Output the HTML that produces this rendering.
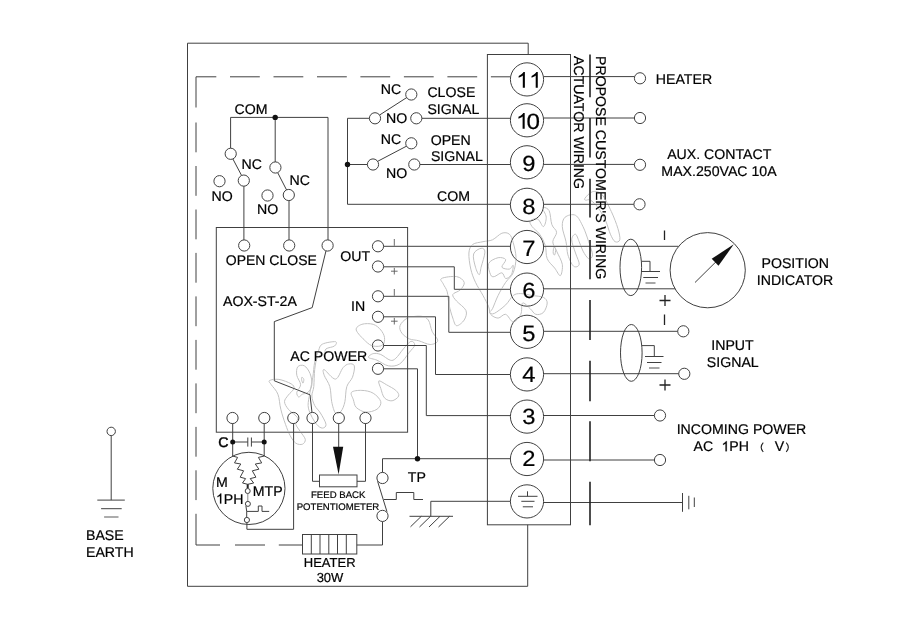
<!DOCTYPE html>
<html>
<head>
<meta charset="utf-8">
<title>Wiring Diagram</title>
<style>
html,body{margin:0;padding:0;background:#fff;}
body{width:900px;height:636px;overflow:hidden;font-family:"Liberation Sans",sans-serif;}
svg{display:block;will-change:transform;opacity:0.999;}
text{font-family:"Liberation Sans",sans-serif;fill:#000;stroke:#000;stroke-width:0.2px;text-rendering:geometricPrecision;}
.t{font-size:14.15px;}
.s{font-size:9.6px;}
.n{font-size:22px;text-anchor:middle;}
.w{fill:none;stroke:#404040;stroke-width:1;}
.c{fill:#fff;stroke:#404040;stroke-width:1;}
.d{fill:#111;stroke:none;}
.k{fill:none;stroke:#222;stroke-width:1.6;}
.wm{fill:none;stroke:#c2c2c2;stroke-width:1;mix-blend-mode:darken;}
</style>
</head>
<body>
<svg width="900" height="636" viewBox="0 0 900 636">
<rect x="0" y="0" width="900" height="636" fill="#fff"/>



<!-- OUTER BOX -->
<g id="outer" class="w">
<path d="M528.2 54.5V43.2H187.5V586.3H527.7V524.8"/>
<rect x="487.4" y="54.5" width="83.1" height="470.3"/>
</g>

<!-- DASHED INNER BOX -->
<g id="dash" class="w">
<path d="M196 107.5V76.8H216.3M230.0 76.8H259.8M273.5 76.8H303.3M317.0 76.8H346.8M360.4 76.8H390.2M403.9 76.8H433.7M447.4 76.8H477.2M490.9 76.8H510.5"/>
<path d="M196 122.5V152.3M196 166.0V195.8M196 209.5V239.3M196 252.9V282.7M196 296.4V326.2M196 339.9V369.7M196 383.4V413.2M196 426.9V456.7M196 470.3V500.1"/>
<path d="M196 513.8V545H220M235 545H265M278.8 545H302.5"/>
</g>

<!-- LEFT LIMIT SWITCHES -->
<g id="lsw">
<path class="w" d="M230.6 148.3V117.4H328V240M275.2 117.4V162M232.8 158.8L241.6 175.5M277.6 172.5L286.6 190M243.9 186V240M289 200.5V240"/>
<circle class="d" cx="275.2" cy="117.4" r="2.7"/>
<circle class="c" cx="230.7" cy="153.8" r="5.6"/>
<circle class="c" cx="243.8" cy="180.6" r="5.6"/>
<circle class="c" cx="219.5" cy="181.2" r="5.6"/>
<circle class="c" cx="275.4" cy="167.5" r="5.6"/>
<circle class="c" cx="288.8" cy="195" r="5.6"/>
<circle class="c" cx="267.5" cy="195.5" r="5.6"/>
<text class="t" x="234.5" y="113.8">COM</text>
<text class="t" x="241.5" y="168.8">NC</text>
<text class="t" x="211.5" y="200.8">NO</text>
<text class="t" x="289.5" y="184.5">NC</text>
<text class="t" x="257" y="213.8">NO</text>
</g>

<!-- CONTROLLER BOX -->
<g id="ctl">
<rect class="w" x="216.3" y="227.5" width="191.3" height="204.7"/>
<path class="w" d="M326 250.8L312.2 307.6L274.3 321.6V380.8L310 394.8L312 412.6"/>
<circle class="c" cx="244.2" cy="245.5" r="5.6"/>
<circle class="c" cx="289.2" cy="245.5" r="5.6"/>
<circle class="c" cx="327.6" cy="245.5" r="5.6"/>
<text class="t" x="225.8" y="265" style="font-size:14px">OPEN CLOSE</text>
<text class="t" x="223" y="306.3">AOX-ST-2A</text>
<text class="t" x="340.3" y="260.8">OUT</text>
<text class="t" x="351" y="310.8">IN</text>
<text class="t" x="290.3" y="361.3">AC POWER</text>
<!-- right side terminals -->
<path class="w" d="M383.3 246.3H510.5M383.3 266.8H454.3V289.3H510.5M383.3 296.3H448.8V332.3H510.5M383.3 316.8H435.5V374.5H510.5M383.3 345.5H426.3V415.6H510.5M383.3 368.8H417.5V458.6"/>
<path class="w" style="stroke:#5a5a5a;stroke-width:0.9" d="M394.3 239V245.8M394.3 289V295.8M391 271.2H397.6M394.3 267.9V274.5M391 321.2H397.6M394.3 317.9V324.5"/>
<circle class="c" cx="378" cy="246.3" r="5.6"/>
<circle class="c" cx="378" cy="266.5" r="5.6"/>
<circle class="c" cx="378" cy="296.3" r="5.6"/>
<circle class="c" cx="378" cy="316.8" r="5.6"/>
<circle class="c" cx="378" cy="345.5" r="5.6"/>
<circle class="c" cx="378" cy="368.8" r="5.6"/>
<!-- bottom terminals -->
<circle class="c" cx="232.5" cy="418" r="5.6"/>
<circle class="c" cx="264.3" cy="418" r="5.6"/>
<circle class="c" cx="293.3" cy="418" r="5.6"/>
<circle class="c" cx="312.5" cy="418" r="5.6"/>
<circle class="c" cx="338.8" cy="418" r="5.6"/>
<circle class="c" cx="365.5" cy="418" r="5.6"/>
</g>

<!-- SIGNAL SWITCHES -->
<g id="ssw">
<path class="w" d="M369.7 118.3H347.5V204.3H510.5M421.5 118.3H510.5M347.5 164.5H367.7M419.5 164.5H510.5M379.3 115.2L407 97.4M377.3 161.5L406.8 146"/>
<circle class="d" cx="347.5" cy="164.5" r="2.7"/>
<circle class="c" cx="411.3" cy="94.5" r="5.6"/>
<circle class="c" cx="375" cy="118.3" r="5.6"/>
<circle class="c" cx="416.3" cy="118.3" r="5.6"/>
<circle class="c" cx="411.3" cy="143.3" r="5.6"/>
<circle class="c" cx="373" cy="164.5" r="5.6"/>
<circle class="c" cx="414.3" cy="164.5" r="5.6"/>
<text class="t" x="380.8" y="93.8">NC</text>
<text class="t" x="386" y="123">NO</text>
<text class="t" x="380.8" y="143.8">NC</text>
<text class="t" x="386" y="177.5">NO</text>
<text class="t" x="427.4" y="97">CLOSE</text>
<text class="t" x="427.4" y="113.8">SIGNAL</text>
<text class="t" x="430.7" y="145">OPEN</text>
<text class="t" x="430.9" y="161.3">SIGNAL</text>
<text class="t" x="437" y="200.8">COM</text>
</g>

<!-- TERMINAL CIRCLES -->
<g id="term">
<circle class="c" cx="527" cy="79.4" r="16.6"/>
<circle class="c" cx="527" cy="120.3" r="16.6"/>
<circle class="c" cx="527" cy="162.3" r="16.6"/>
<circle class="c" cx="527" cy="204.8" r="16.6"/>
<circle class="c" cx="527" cy="247.0" r="16.6"/>
<circle class="c" cx="527" cy="289.6" r="16.6"/>
<circle class="c" cx="527" cy="331.8" r="16.6"/>
<circle class="c" cx="527" cy="374.4" r="16.6"/>
<circle class="c" cx="527" cy="416.6" r="16.6"/>
<circle class="c" cx="527" cy="459.0" r="16.6"/>
<circle class="c" cx="527" cy="501.4" r="16.6"/>
<path class="d" style="fill:#000" transform="translate(516.1 87.8) scale(0.0115 -0.010742)" d="M763 0H583V1147Q518 1085 412.5 1023Q307 961 223 930V1104Q374 1175 486 1276Q598 1377 644 1472H763Z"/>
<path class="d" style="fill:#000" transform="translate(529.0 87.8) scale(0.0115 -0.010742)" d="M763 0H583V1147Q518 1085 412.5 1023Q307 961 223 930V1104Q374 1175 486 1276Q598 1377 644 1472H763Z"/>
<path class="d" style="fill:#000" transform="translate(515.9 128.7) scale(0.0115 -0.010742)" d="M763 0H583V1147Q518 1085 412.5 1023Q307 961 223 930V1104Q374 1175 486 1276Q598 1377 644 1472H763Z"/>
<text class="n" transform="translate(533.3 128.7) scale(1.1 1)">0</text>
<text class="n" transform="translate(528.8 171.2) scale(1.08 1)">9</text>
<text class="n" transform="translate(528.8 213.5) scale(1.08 1)">8</text>
<text class="n" transform="translate(528.8 256.4) scale(1.08 1)">7</text>
<text class="n" transform="translate(528.8 297.9) scale(1.08 1)">6</text>
<text class="n" transform="translate(528.8 340.8) scale(1.08 1)">5</text>
<text class="n" transform="translate(528.8 381.9) scale(1.08 1)">4</text>
<text class="n" transform="translate(528.8 424.0) scale(1.08 1)">3</text>
<text class="n" transform="translate(528.8 466.0) scale(1.08 1)">2</text>
<path class="w" d="M527.5 491.3V496.3M518 496.3H537.5M521.3 501.3H534.5M522.8 506.8H533"/>
</g>

<!-- RIGHT SIDE EXTERNAL WIRING -->
<g id="ext">
<path class="w" d="M543.5 76.6H634.7M543.5 118H634.7M543.5 164.4H634.7M543.5 204.3H634.2M543.5 246.3H678.6M543.5 288.8H675.5M543.5 331.3H678M543.5 373.7H679M543.5 415.5H654.7M543.5 460H654.7M543.5 502.5H682.5"/>
<path class="k" d="M590 54.5V97.3M590 118V157.5M590 178.8V217.5M590 240V279.3M590 300V340M590 360.8V401.3M590 421.3V461.3M590 481.8V525.3"/>
<circle class="c" cx="640" cy="78.3" r="5.6"/>
<circle class="c" cx="640" cy="118" r="5.6"/>
<circle class="c" cx="640" cy="164.8" r="5.6"/>
<circle class="c" cx="639.5" cy="204.3" r="5.6"/>
<circle class="c" cx="683.3" cy="331.3" r="5.6"/>
<circle class="c" cx="684.3" cy="373.8" r="5.6"/>
<circle class="c" cx="660" cy="415.5" r="5.6"/>
<circle class="c" cx="660" cy="460" r="5.6"/>
<!-- shields -->
<ellipse class="w" cx="630.8" cy="267.4" rx="10.8" ry="28.2"/>
<path class="w" d="M641.5 261.3H650V271.5M641.3 271.5H660M643.3 277.5H658"/>
<path class="w" style="stroke:#777;stroke-width:1.3" d="M645.5 283H655.5"/>
<ellipse class="w" cx="631.3" cy="352.9" rx="10.8" ry="28.4"/>
<path class="w" d="M642 345.6H654.3V356.5M645 356.5H663.5M647 362.5H661.5"/>
<path class="w" style="stroke:#777;stroke-width:1.3" d="M649 368H659.5"/>
<!-- gauge -->
<circle class="c" cx="707.7" cy="270.2" r="37.6"/>
<path class="w" d="M695 282.5L722 255.8"/>
<path class="d" d="M733.8 244.3L711.7 258.8L718.5 265.8Z"/>
<!-- polarity marks -->
<path class="w" style="stroke:#222;stroke-width:1.3" d="M664.5 230.5V240M664.5 314.5V325M659.5 300.5H670.5M665 295V306M659.5 385H670.5M665 379.5V390.5"/>
<!-- earth -->
<path class="w" d="M682.5 493V511.8M688.8 495.8V509.3M694.3 497.5V507"/>
<text class="t" x="655.8" y="83.8">HEATER</text>
<text class="t" x="719.3" y="158.8" text-anchor="middle">AUX. CONTACT</text>
<text class="t" x="719" y="175.5" text-anchor="middle">MAX.250VAC 10A</text>
<text class="t" x="795.3" y="268" text-anchor="middle">POSITION</text>
<text class="t" x="795" y="285" text-anchor="middle">INDICATOR</text>
<text class="t" x="732.5" y="350" text-anchor="middle">INPUT</text>
<text class="t" x="732.8" y="366.8" text-anchor="middle">SIGNAL</text>
<text class="t" x="741.5" y="433.8" text-anchor="middle">INCOMING POWER</text>
<text class="t" x="693.5" y="451.3">AC</text>
<path style="fill:#000;stroke:#000;stroke-width:30" transform="translate(721.50 451.30) scale(0.006909 -0.006909)" d="M763 0H583V1147Q518 1085 412.5 1023Q307 961 223 930V1104Q374 1175 486 1276Q598 1377 644 1472H763Z"/><text class="t" x="729.37" y="451.3">PH</text>
<text class="t" x="774.8" y="451.3">V</text>
<path class="w" d="M763.3 442.6Q759 447.3 763.3 452M786.2 442.6Q790.5 447.3 786.2 452" style="stroke-width:1.1;stroke:#222"/>
<text class="t" transform="translate(574.3 56) rotate(90)">ACTUATOR WIRING</text>
<text class="t" transform="translate(596 56) rotate(90)">PROPOSE CUSTOMER'S WIRING</text>
</g>

<!-- MOTOR + CAPACITOR -->
<g id="motor">
<circle class="w" cx="248.9" cy="488.4" r="36.1"/>
<path class="w" d="M232.7 423.3V456M264.2 423.3V456M232.7 442H247.8M251.4 442H264.2M247.8 437.5V446.6M251.4 437.5V446.6"/>
<circle class="d" cx="232.7" cy="442" r="2.5"/>
<circle class="d" cx="264.2" cy="442" r="2.5"/>
<path class="w" d="M232.6 456L237.6 457.4L234.5 462.9L240.8 464L237.3 469.2L243.6 470.8L240.2 477.2L245.6 478.6L242.5 483L247.7 484.3L253.7 483L250.2 478.6L255.9 477.2L252.3 470.8L258.9 469.2L255.3 464L261.7 462.9L258.4 457.4L264.4 456"/>
<path class="w" d="M247.7 484.3V488.4" style="stroke-width:2;stroke:#222"/>
<path class="w" d="M247.8 493.5V501.3" style="stroke:#8a8a8a"/>
<path class="w" d="M245.9 505.8L246.7 511.4V517.2M246.7 511.4H258.3V506H262V511.4H269.2M246.9 522.6V529.3H293.6V423.3"/>
<circle class="c" cx="247.7" cy="491" r="2.5"/>
<circle class="c" cx="247.9" cy="503.9" r="2.5"/>
<circle class="c" cx="246.9" cy="520" r="2.6"/>
<text class="t" x="218.2" y="446.5" style="stroke-width:0.45px">C</text>
<text class="t" x="216" y="486.8">M</text>
<path style="fill:#000;stroke:#000;stroke-width:30" transform="translate(216.00 503.60) scale(0.006909 -0.006909)" d="M763 0H583V1147Q518 1085 412.5 1023Q307 961 223 930V1104Q374 1175 486 1276Q598 1377 644 1472H763Z"/><text class="t" x="223.87" y="503.6">PH</text>
<text class="t" x="252.8" y="496.3">MTP</text>
</g>

<!-- FEEDBACK POTENTIOMETER -->
<g id="pot">
<path class="w" d="M312.5 423.3V481.3H319.5M357 481.3H365.5V423.3M338.7 423.3V447"/>
<rect class="w" x="319.5" y="475" width="37.5" height="11.8"/>
<path class="d" d="M333 446.8H343.2L338.6 474.5Z"/>
<text class="s" x="338.2" y="498.4" text-anchor="middle">FEED BACK</text>
<text class="s" x="338" y="509.9" text-anchor="middle">POTENTIOMETER</text>
</g>

<!-- TP SWITCH + HEATER + CHASSIS GROUND -->
<g id="tp">
<path class="w" d="M382.5 472.7V458.7H510.5M377.6 481.3L387 511.8M384 499.5H396.3V492.5H413.8V499.5H423M382.5 521.5V545H356.8"/>
<circle class="d" cx="417.5" cy="458.7" r="2.7"/>
<circle class="c" cx="382.5" cy="478" r="5.6"/>
<circle class="c" cx="382.5" cy="515.9" r="5.6"/>
<text class="t" x="407.8" y="481.8">TP</text>
<rect class="w" x="302.5" y="534.5" width="54.3" height="19.5"/>
<path class="w" d="M311.3 534.5V554M320 534.5V554M328.8 534.5V554M337.5 534.5V554M346.3 534.5V554"/>
<text x="329.7" y="566.8" text-anchor="middle" font-size="13px">HEATER</text>
<text x="330" y="582" text-anchor="middle" font-size="13px">30W</text>
<path class="w" d="M510.5 501.3H430.8V516.3M409.5 516.3H453M421.3 516.3L410.5 526.8M430.5 516.3L419.5 527M440 516.3L429 527M449.5 516.3L438.5 527"/>
</g>

<!-- BASE EARTH -->
<g id="base">
<path class="w" d="M111.2 435.5V500.1M97.3 500.1H124.8M101.1 508.7H121.7"/>
<path class="w" d="M104.1 517H118.5" style="stroke:#888;stroke-width:1.4"/>
<circle class="c" cx="111.2" cy="431.4" r="4.2"/>
<text class="t" x="86" y="540.1">BASE</text>
<text class="t" x="86" y="556.7">EARTH</text>
</g>

<!-- WATERMARK -->
<g id="wm" class="wm">
<path d="M269.4 380.6C270.7 379.7 275.3 378.9 278.9 379.4C282.5 380.0 288.6 382.3 291.1 383.8C293.6 385.3 294.4 386.6 294.0 388.5C293.5 390.4 289.9 392.9 288.3 395.1C286.7 397.3 284.5 399.3 284.5 401.7C284.5 404.1 286.6 407.0 288.3 409.2C290.0 411.4 293.3 413.3 294.9 414.9C296.5 416.5 297.6 417.1 297.7 418.7C297.9 420.3 295.4 422.1 295.8 424.3C296.3 426.5 299.0 429.4 300.6 431.9C302.1 434.4 305.0 437.4 305.3 439.4C305.6 441.5 304.0 443.5 302.5 444.2C300.9 444.8 297.9 444.6 295.8 443.2C293.8 441.8 291.9 438.8 290.2 435.7C288.5 432.5 287.0 428.7 285.5 424.3C283.9 419.9 282.0 414.3 280.8 409.2C279.5 404.2 279.5 398.2 277.9 394.2C276.4 390.1 272.7 387.0 271.3 384.7C269.9 382.5 268.2 381.4 269.4 380.6Z"/>
<path d="M297.7 366.8C299.0 365.2 302.3 364.7 304.3 365.8C306.4 366.9 308.7 370.3 310.0 373.4C311.3 376.5 312.2 381.6 311.9 384.7C311.6 387.9 309.7 390.7 308.1 392.3C306.5 393.8 304.0 393.4 302.5 394.2C300.9 394.9 299.6 397.3 298.7 397.0C297.7 396.7 296.5 394.3 296.8 392.3C297.1 390.2 300.6 387.5 300.6 384.7C300.6 381.9 297.3 378.3 296.8 375.3C296.3 372.3 296.5 368.4 297.7 366.8Z"/>
<path d="M322.3 344.2C325.1 342.6 333.4 341.4 335.5 341.7C337.5 342.0 336.1 344.8 334.5 346.0C333.0 347.2 327.8 347.5 326.0 348.9C324.3 350.3 325.6 353.1 324.2 354.5C322.7 355.9 319.1 354.8 317.5 357.4C316.0 359.9 315.3 364.7 314.7 369.6C314.1 374.5 314.2 382.2 313.8 386.6C313.3 391.0 311.7 392.9 311.9 396.0C312.0 399.2 313.3 402.6 314.7 405.5C316.1 408.3 318.5 409.9 320.4 413.0C322.3 416.2 325.7 421.8 326.0 424.3C326.4 426.9 323.8 428.1 322.3 428.1C320.7 428.1 318.5 426.5 316.6 424.3C314.7 422.1 312.4 418.1 310.9 414.9C309.5 411.8 308.3 409.2 308.1 405.5C308.0 401.7 309.2 397.0 310.0 392.3C310.8 387.5 312.0 382.2 312.8 377.2C313.6 372.1 313.8 366.5 314.7 362.1C315.7 357.7 317.2 353.7 318.5 350.8C319.7 347.8 319.4 345.7 322.3 344.2Z"/>
<path d="M324.2 369.6C326.0 370.3 332.3 379.4 335.5 379.1C338.6 378.7 340.8 370.3 343.0 367.7C345.2 365.2 346.8 364.3 348.7 364.0C350.6 363.6 353.7 363.6 354.3 365.8C355.0 368.1 353.7 373.7 352.5 377.2C351.2 380.6 348.1 382.5 346.8 386.6C345.5 390.7 345.8 397.6 344.9 401.7C344.0 405.8 342.7 409.2 341.1 411.1C339.6 413.0 337.0 414.6 335.5 413.0C333.9 411.4 332.6 406.1 331.7 401.7C330.8 397.3 331.1 391.0 329.8 386.6C328.6 382.2 325.1 378.1 324.2 375.3C323.2 372.5 322.3 369.0 324.2 369.6Z"/>
<path d="M351.5 392.3C352.9 390.7 358.3 390.2 361.9 390.4C365.5 390.5 370.1 391.3 373.2 393.2C376.4 395.1 380.1 399.0 380.8 401.7C381.4 404.4 379.5 407.5 377.0 409.2C374.5 411.0 369.1 412.4 365.7 412.1C362.2 411.8 358.3 409.4 356.2 407.4C354.2 405.3 354.2 402.3 353.4 399.8C352.6 397.3 350.1 393.8 351.5 392.3Z"/>
<path d="M378.9 380.9C379.8 380.3 383.6 383.1 386.4 384.7C389.2 386.3 393.8 388.5 395.8 390.4C397.9 392.3 399.3 394.3 398.7 396.0C398.1 397.8 394.4 400.4 392.1 400.8C389.7 401.1 386.4 400.0 384.5 397.9C382.6 395.9 381.7 391.3 380.8 388.5C379.8 385.7 377.9 381.6 378.9 380.9Z"/>
<path d="M368.5 357.4C369.1 358.5 373.7 358.8 377.0 360.2C380.3 361.6 384.5 365.2 388.3 365.8C392.1 366.5 396.2 366.2 399.6 364.0C403.1 361.8 406.5 355.8 409.1 352.6C411.6 349.5 414.4 347.0 414.7 345.1C415.0 343.2 412.8 340.7 410.9 341.3C409.1 341.9 405.9 346.0 403.4 348.9C400.9 351.7 398.1 356.4 395.8 358.3C393.6 360.2 392.7 360.8 390.2 360.2C387.7 359.6 383.6 355.6 380.8 354.5C377.9 353.4 375.3 353.1 373.2 353.6C371.2 354.1 367.9 356.3 368.5 357.4Z"/>
<path d="M356.2 330.0C356.9 332.8 362.8 338.6 365.7 341.3C368.5 344.0 370.4 345.4 373.2 346.0C376.0 346.7 380.8 346.5 382.6 345.1C384.5 343.7 384.8 340.1 384.5 337.5C384.2 335.0 382.6 332.2 380.8 330.0C378.9 327.8 376.4 325.3 373.2 324.3C370.1 323.4 364.7 323.4 361.9 324.3C359.1 325.3 355.6 327.2 356.2 330.0Z"/>
<path d="M301.9 377.2C302.2 377.0 303.6 378.4 303.8 379.4C304.0 380.4 303.4 383.1 303.0 383.2C302.7 383.3 301.9 381.2 301.7 380.2C301.5 379.2 301.5 377.3 301.9 377.2Z"/>
<path d="M468.9 253.0C469.2 248.9 470.3 246.4 472.6 244.5C475.0 242.6 479.7 242.5 483.0 241.7C486.3 240.9 489.3 241.2 492.5 239.8C495.6 238.4 499.1 234.2 501.9 233.2C504.7 232.3 507.5 232.6 509.4 234.2C511.3 235.7 512.1 238.7 513.2 242.6C514.3 246.6 516.0 252.7 516.0 257.7C516.0 262.8 514.9 268.7 513.2 272.8C511.5 276.9 508.2 278.5 505.7 282.3C503.1 286.0 500.3 291.1 498.1 295.5C495.9 299.9 493.9 305.8 492.5 308.7C491.0 311.5 489.3 311.7 489.6 312.5C489.9 313.2 491.7 314.7 494.3 313.4C497.0 312.1 502.5 307.9 505.7 304.9C508.8 301.9 510.7 297.4 513.2 295.5C515.7 293.6 517.6 293.6 520.8 293.6C523.9 293.6 528.3 294.8 532.1 295.5C535.8 296.1 540.9 296.1 543.4 297.4C545.9 298.6 547.2 300.5 547.2 303.0C547.2 305.5 545.3 310.6 543.4 312.5C541.5 314.3 538.1 315.0 535.8 314.3C533.6 313.7 532.4 310.6 530.2 308.7C528.0 306.8 524.2 302.1 522.6 303.0C521.1 304.0 522.3 311.2 520.8 314.3C519.2 317.5 515.7 321.9 513.2 321.9C510.7 321.9 508.2 315.0 505.7 314.3C503.1 313.7 500.6 318.1 498.1 318.1C495.6 318.1 492.1 316.2 490.6 314.3C489.0 312.5 489.9 309.9 488.7 306.8C487.4 303.6 485.2 299.6 483.0 295.5C480.8 291.4 477.5 286.7 475.5 282.3C473.4 277.9 471.9 273.9 470.8 269.1C469.7 264.2 468.6 257.1 468.9 253.0Z"/>
<path d="M473.6 254.0C474.5 250.8 479.2 248.6 481.1 248.3C483.0 248.0 484.9 248.9 484.9 252.1C484.9 255.2 482.1 263.4 481.1 267.2C480.2 270.9 480.2 274.7 479.2 274.7C478.3 274.7 476.4 270.6 475.5 267.2C474.5 263.7 472.6 257.1 473.6 254.0Z"/>
<path d="M488.7 263.4C489.9 260.6 495.3 258.4 498.1 257.7C500.9 257.1 505.0 258.1 505.7 259.6C506.3 261.2 501.3 265.6 501.9 267.2C502.5 268.7 507.5 269.4 509.4 269.1C511.3 268.7 512.9 264.3 513.2 265.3C513.5 266.2 512.6 272.5 511.3 274.7C510.1 276.9 507.2 278.8 505.7 278.5C504.1 278.2 503.8 273.1 501.9 272.8C500.0 272.5 496.2 276.3 494.3 276.6C492.5 276.9 491.5 276.9 490.6 274.7C489.6 272.5 487.4 266.2 488.7 263.4Z"/>
<path d="M441.5 278.5C443.7 277.2 452.8 276.0 456.6 276.6C460.4 277.2 463.5 280.1 464.2 282.3C464.8 284.5 462.3 287.8 460.4 289.8C458.5 291.9 453.5 292.6 452.8 294.5C452.2 296.4 454.4 298.5 456.6 301.1C458.8 303.8 464.8 307.4 466.0 310.6C467.3 313.7 465.7 317.5 464.2 320.0C462.6 322.5 458.5 326.0 456.6 325.7C454.7 325.3 454.1 321.6 452.8 318.1C451.6 314.7 450.0 309.3 449.1 304.9C448.1 300.5 448.1 295.2 447.2 291.7C446.2 288.2 444.3 286.4 443.4 284.2C442.5 281.9 439.3 279.7 441.5 278.5Z"/>
<path d="M400.0 325.7C400.9 323.1 404.1 319.7 407.5 318.1C411.0 316.5 417.3 315.9 420.8 316.2C424.2 316.5 426.4 317.5 428.3 320.0C430.2 322.5 430.5 327.9 432.1 331.3C433.6 334.8 438.1 338.6 437.7 340.8C437.4 343.0 433.3 344.5 430.2 344.5C427.0 344.5 422.3 341.7 418.9 340.8C415.4 339.8 412.3 340.1 409.4 338.9C406.6 337.6 403.5 335.4 401.9 333.2C400.3 331.0 399.1 328.2 400.0 325.7Z"/>
<path d="M584.9 198.3C586.0 196.9 589.6 192.3 592.5 191.7C595.3 191.1 598.7 191.2 601.9 194.5C605.0 197.8 608.6 205.8 611.3 211.5C614.0 217.2 616.5 223.8 617.9 228.5C619.3 233.2 620.3 237.6 619.8 239.8C619.3 242.0 616.7 242.6 615.1 241.7C613.5 240.8 611.9 237.6 610.4 234.2C608.8 230.7 607.7 225.3 605.7 220.9C603.6 216.5 600.6 211.2 598.1 207.7C595.6 204.3 592.6 201.4 590.6 200.2C588.5 198.9 586.8 200.5 585.8 200.2C584.9 199.9 583.8 199.7 584.9 198.3Z"/>
<path d="M542.5 207.7C542.9 206.6 547.5 207.7 549.1 210.6C550.6 213.4 550.6 221.1 551.9 224.7C553.1 228.3 556.4 229.4 556.6 232.3C556.8 235.1 552.8 238.6 552.8 241.7C552.8 244.8 555.0 247.4 556.6 251.1C558.2 254.9 561.6 260.3 562.3 264.3C562.9 268.4 561.6 275.0 560.4 275.7C559.1 276.3 556.9 270.9 554.7 268.1C552.5 265.3 548.7 262.5 547.2 258.7C545.6 254.9 546.5 249.6 545.3 245.5C544.0 241.4 541.8 237.3 539.6 234.2C537.4 231.0 533.6 228.8 532.1 226.6C530.5 224.4 529.2 222.2 530.2 220.9C531.1 219.7 535.5 218.1 537.7 219.1C539.9 220.0 542.0 226.9 543.4 226.6C544.8 226.3 546.4 220.3 546.2 217.2C546.1 214.0 542.0 208.8 542.5 207.7Z"/>
<path d="M565.1 217.2C567.3 215.3 572.5 213.7 575.5 215.3C578.5 216.9 580.8 222.2 583.0 226.6C585.2 231.0 587.1 237.0 588.7 241.7C590.3 246.4 592.5 252.1 592.5 254.9C592.5 257.7 590.3 259.3 588.7 258.7C587.1 258.1 584.6 254.0 583.0 251.1C581.4 248.3 580.5 244.5 579.2 241.7C578.0 238.9 576.7 234.5 575.5 234.2C574.2 233.8 571.7 236.7 571.7 239.8C571.7 243.0 574.2 248.9 575.5 253.0C576.7 257.1 579.6 262.1 579.2 264.3C578.9 266.5 575.5 267.8 573.6 266.2C571.7 264.7 569.2 259.0 567.9 254.9C566.7 250.8 567.0 246.4 566.0 241.7C565.1 237.0 562.4 230.7 562.3 226.6C562.1 222.5 562.9 219.1 565.1 217.2Z"/>
<path d="M553.8 247.4C554.2 246.7 555.5 248.0 555.7 249.2C555.8 250.5 555.1 254.3 554.7 254.9C554.3 255.5 553.4 254.3 553.2 253.0C553.1 251.8 553.4 248.0 553.8 247.4Z"/>
</g>
</svg>
</body>
</html>
